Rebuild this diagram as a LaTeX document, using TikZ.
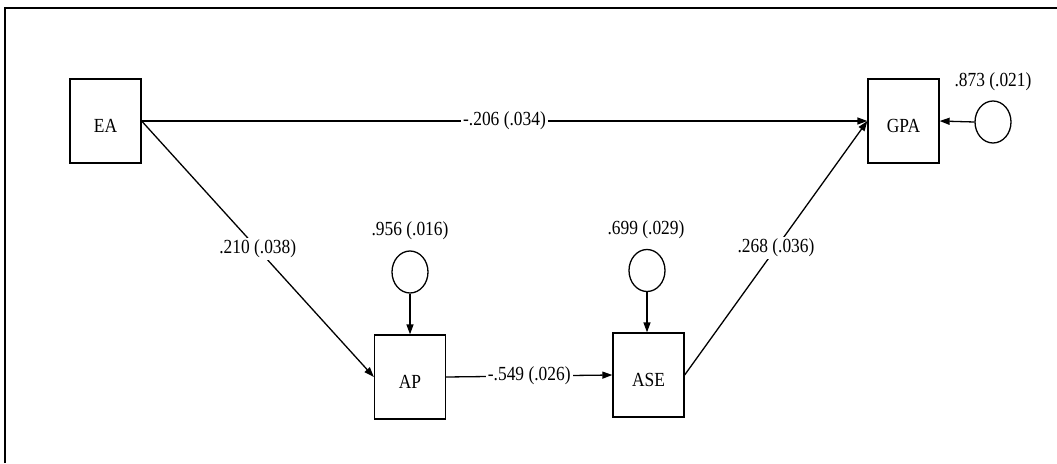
\documentclass[tikz,border=0pt]{standalone}
\usepackage{fontspec}
\setmainfont{Liberation Serif}[FakeStretch=0.87]
\usetikzlibrary{shapes.geometric,arrows.meta}
\begin{document}
\begin{tikzpicture}[x=1pt,y=-1pt,
  varbox/.style={draw,line width=1.3pt,minimum width=71pt,minimum height=84pt,inner sep=0pt,
    font=\fontsize{20}{22}\selectfont,text height=23pt,text depth=0pt},
  errc/.style={draw,ellipse,line width=1.3pt,minimum width=36pt,minimum height=42pt,inner sep=0pt},
  lab/.style={font=\fontsize{20}{22}\selectfont,inner sep=1pt},
  onlab/.style={lab,fill=white,inner sep=2pt},
  path/.style={line width=1.3pt,-{Triangle[length=10pt,width=7pt]}}]
\useasboundingbox (0,0) rectangle (1057,463);
\fill[white] (0,0) rectangle (1057,463);
\draw[line width=2pt] (5,463) -- (5,8) -- (1057,8);

\node[varbox] (EA)  at (105.5,121) {EA};
\node[varbox] (GPA) at (903.5,121) {GPA};
\node[varbox] (AP)  at (410,377) {AP};
\node[varbox] (ASE) at (648.5,375) {ASE};

\node[errc] (e1) at (410,272) {};
\node[errc] (e2) at (647,270.5) {};
\node[errc] (e3) at (993,122) {};

\node[lab] (l1) at (410,231) {.956 (.016)};
\node[lab] (l2) at (646,230) {.699 (.029)};
\node[lab] (l3) at (993,82) {.873 (.021)};

\draw[path] (EA.east) -- node[onlab] {-.206 (.034)} (GPA.west);
\draw[path] (EA.east) -- node[onlab] {.210 (.038)} (AP.west);
\draw[path] (AP.east) -- node[onlab] {-.549 (.026)} (ASE.west);
\draw[path] (ASE.east) -- node[onlab] {.268 (.036)} (GPA.west);
\draw[path] (e1.south) -- (AP.north);
\draw[path] (e2.south) -- (e2.south |- ASE.north);
\draw[path] (e3.west) -- (GPA.east);
\end{tikzpicture}
\end{document}
